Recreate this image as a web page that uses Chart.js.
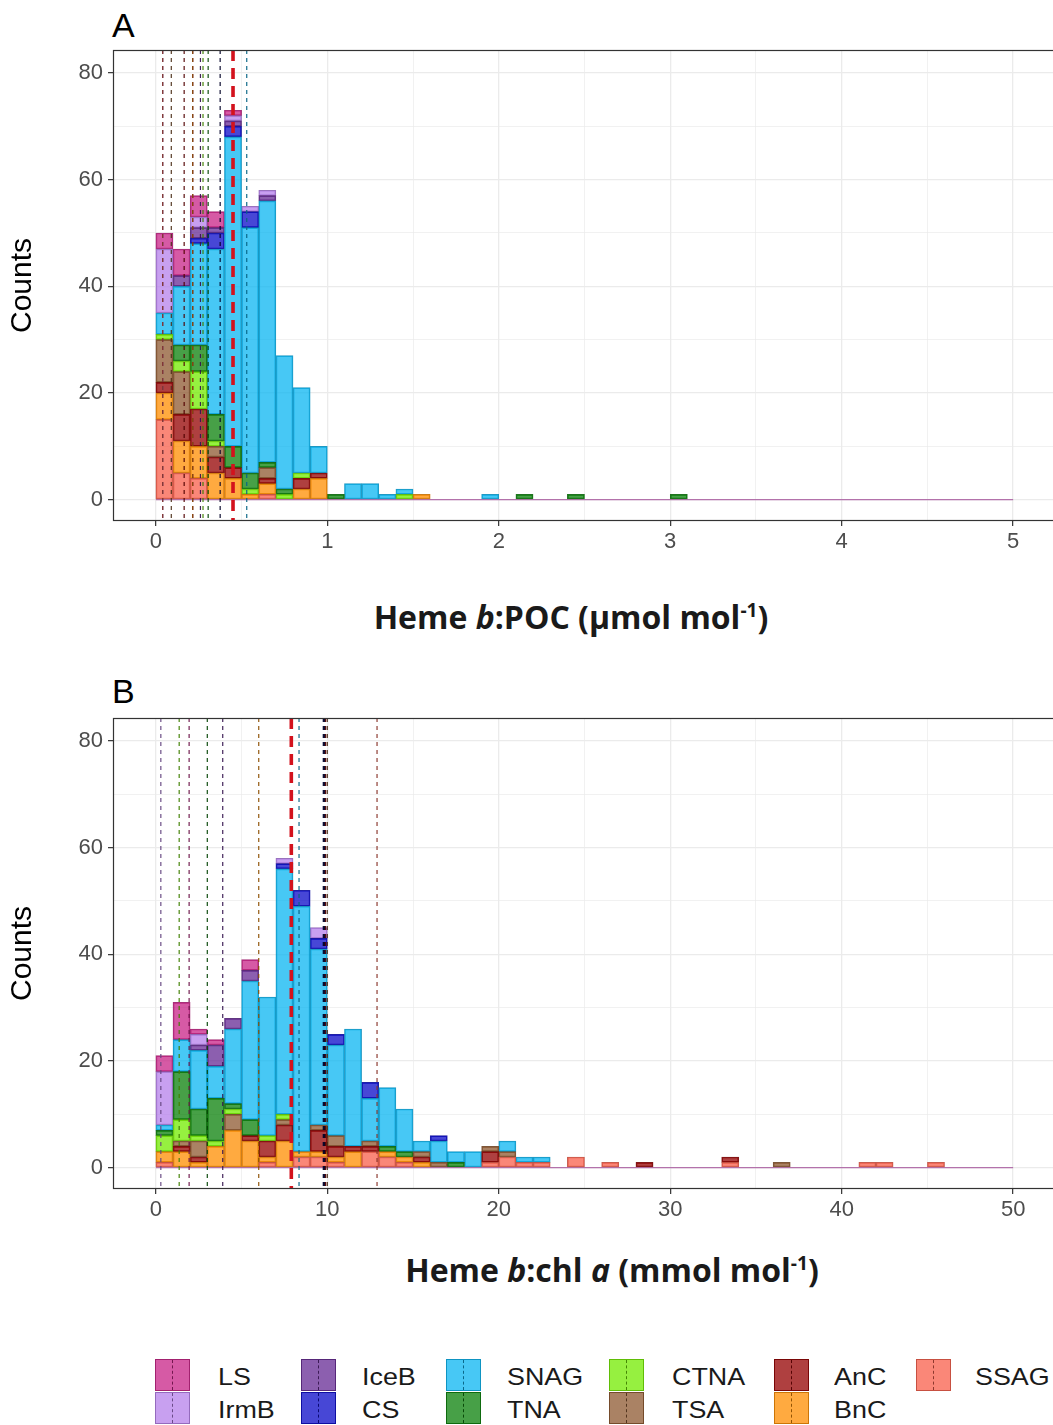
<!DOCTYPE html>
<html>
<head>
<meta charset="utf-8">
<title>Heme b histograms</title>
<script src="https://cdn.jsdelivr.net/npm/chart.js@4.4.1/dist/chart.umd.min.js"></script>
<style>
  html, body { margin:0; padding:0; background:#fff; width:1053px; height:1425px; overflow:hidden; }
  body { position:relative; font-family:"Liberation Sans", Arial, sans-serif; color:#000; }
  canvas { position:absolute; left:0; }
  #chartA { top:0; }
  #chartB { top:668px; }
  .tag { position:absolute; left:112px; font-size:34px; line-height:1; }
  .xtitle { position:absolute; font-family:"Open Sans", sans-serif; font-weight:700; font-size:32px; line-height:1; white-space:nowrap; transform:translateX(-50%); color:#1a1a1a; }
  .xtitle sup { font-size:0.6em; vertical-align:0.65em; line-height:0; }
  .key { position:absolute; width:35px; height:32px; box-sizing:border-box; border:1px solid; }
  .key .dash { position:absolute; left:16px; top:0; bottom:0; border-left:1.5px dashed; }
  .lab { position:absolute; font-size:24px; line-height:1; white-space:nowrap; color:#1a1a1a; transform:scaleX(1.12); transform-origin:left center; }
</style>
</head>
<body>
<div class="tag" style="top:8px">A</div>
<canvas id="chartA" width="1070" height="560" style="width:1070px;height:560px"></canvas>
<div class="xtitle" style="left:571px;top:601px">Heme <i>b</i>:POC (µmol mol<sup>-1</sup>)</div>

<div class="tag" style="top:674px">B</div>
<canvas id="chartB" width="1070" height="560" style="width:1070px;height:560px"></canvas>
<div class="xtitle" style="left:612px;top:1254px">Heme <i>b</i>:chl <i>a</i> (mmol mol<sup>-1</sup>)</div>

<div id="legend"></div>

<script>
// ---------------- data ----------------
const groups = ['LS','IrmB','IceB','CS','SNAG','TNA','CTNA','TSA','AnC','BnC','SSAG'];
const groupHex = ['#c82387','#b680eb','#662a94','#0a0ac8','#0ab6f2','#0a800a','#73eb00','#8e5830','#940000','#ff8e00','#f85f4b'];

// Panel A: Heme b:POC, bins of 0.1 from 0 to 5
const binStartA = 0, binWidthA = 0.1;
const countsA_LS   = [3,5,4,3,1,0,0,0,0,0, 0,0,0,0,0,0,0,0,0,0, 0,0,0,0,0,0,0,0,0,0, 0,0,0,0,0,0,0,0,0,0, 0,0,0,0,0,0,0,0,0,0];
const countsA_IrmB = [12,0,2,0,1,1,1,0,0,0, 0,0,0,0,0,0,0,0,0,0, 0,0,0,0,0,0,0,0,0,0, 0,0,0,0,0,0,0,0,0,0, 0,0,0,0,0,0,0,0,0,0];
const countsA_IceB = [0,2,2,1,1,0,1,0,0,0, 0,0,0,0,0,0,0,0,0,0, 0,0,0,0,0,0,0,0,0,0, 0,0,0,0,0,0,0,0,0,0, 0,0,0,0,0,0,0,0,0,0];
const countsA_CS   = [0,0,1,3,2,3,0,0,0,0, 0,0,0,0,0,0,0,0,0,0, 0,0,0,0,0,0,0,0,0,0, 0,0,0,0,0,0,0,0,0,0, 0,0,0,0,0,0,0,0,0,0];
const countsA_SNAG = [4,11,19,31,58,46,49,25,16,5, 0,3,3,1,1,0,0,0,0,1, 0,0,0,0,0,0,0,0,0,0, 0,0,0,0,0,0,0,0,0,0, 0,0,0,0,0,0,0,0,0,0];
const countsA_TNA  = [0,3,5,5,4,3,1,1,0,0, 1,0,0,0,0,0,0,0,0,0, 0,1,0,0,1,0,0,0,0,0, 1,0,0,0,0,0,0,0,0,0, 0,0,0,0,0,0,0,0,0,0];
const countsA_CTNA = [1,2,7,1,0,1,0,1,1,0, 0,0,0,0,1,0,0,0,0,0, 0,0,0,0,0,0,0,0,0,0, 0,0,0,0,0,0,0,0,0,0, 0,0,0,0,0,0,0,0,0,0];
const countsA_TSA  = [8,8,0,2,0,0,2,0,0,0, 0,0,0,0,0,0,0,0,0,0, 0,0,0,0,0,0,0,0,0,0, 0,0,0,0,0,0,0,0,0,0, 0,0,0,0,0,0,0,0,0,0];
const countsA_AnC  = [2,5,7,3,2,0,1,0,2,1, 0,0,0,0,0,0,0,0,0,0, 0,0,0,0,0,0,0,0,0,0, 0,0,0,0,0,0,0,0,0,0, 0,0,0,0,0,0,0,0,0,0];
const countsA_BnC  = [5,6,6,5,4,1,2,0,2,4, 0,0,0,0,0,1,0,0,0,0, 0,0,0,0,0,0,0,0,0,0, 0,0,0,0,0,0,0,0,0,0, 0,0,0,0,0,0,0,0,0,0];
const countsA_SSAG = [15,5,4,0,0,0,1,0,0,0, 0,0,0,0,0,0,0,0,0,0, 0,0,0,0,0,0,0,0,0,0, 0,0,0,0,0,0,0,0,0,0, 0,0,0,0,0,0,0,0,0,0];
// group medians (order of `groups`) and overall median
const mediansA = [0.215, 0.04, 0.26, 0.375, 0.53, 0.305, 0.275, 0.09, 0.165, 0.215, 0.04];
const overallMedianA = 0.45;
const xTicksA = [0, 1, 2, 3, 4, 5];

// Panel B: Heme b:chl a, bins of 1 from 0 to 50
const binStartB = 0, binWidthB = 1;
const countsB_LS   = [3,7,1,1,0,2,0,0,0,0, 0,0,0,0,0,0,0,0,0,0, 0,0,0,0,0,0,0,0,0,0, 0,0,0,0,0,0,0,0,0,0, 0,0,0,0,0,0,0,0,0,0];
const countsB_IrmB = [10,0,2,0,0,0,0,1,0,2, 0,0,0,0,0,0,0,0,0,0, 0,0,0,0,0,0,0,0,0,0, 0,0,0,0,0,0,0,0,0,0, 0,0,0,0,0,0,0,0,0,0];
const countsB_IceB = [0,0,1,4,2,2,0,0,0,0, 0,0,0,0,0,0,0,0,0,0, 0,0,0,0,0,0,0,0,0,0, 0,0,0,0,0,0,0,0,0,0, 0,0,0,0,0,0,0,0,0,0];
const countsB_CS   = [0,0,0,0,0,0,0,1,3,2, 2,0,3,0,0,0,1,0,0,0, 0,0,0,0,0,0,0,0,0,0, 0,0,0,0,0,0,0,0,0,0, 0,0,0,0,0,0,0,0,0,0];
const countsB_SNAG = [1,6,11,6,14,26,26,46,46,33, 17,22,8,11,8,2,4,2,3,0, 2,1,1,0,0,0,0,0,0,0, 0,0,0,0,0,0,0,0,0,0, 0,0,0,0,0,0,0,0,0,0];
const countsB_TNA  = [1,9,5,8,1,3,0,0,0,0, 0,0,0,1,1,0,0,1,0,0, 0,0,0,0,0,0,0,0,0,0, 0,0,0,0,0,0,0,0,0,0, 0,0,0,0,0,0,0,0,0,0];
const countsB_CTNA = [3,4,1,1,1,0,1,1,0,0, 0,0,0,0,0,0,0,0,0,0, 0,0,0,0,0,0,0,0,0,0, 0,0,0,0,0,0,0,0,0,0, 0,0,0,0,0,0,0,0,0,0];
const countsB_TSA  = [0,1,3,0,3,0,0,1,0,1, 2,0,1,0,0,1,1,0,0,1, 1,0,0,0,0,0,0,0,0,0, 0,0,0,0,0,0,1,0,0,0, 0,0,0,0,0,0,0,0,0,0];
const countsB_AnC  = [0,1,1,0,0,1,3,3,0,4, 2,1,1,0,0,1,0,0,0,2, 0,0,0,0,0,0,0,0,1,0, 0,0,0,1,0,0,0,0,0,0, 0,0,0,0,0,0,0,0,0,0];
const countsB_BnC  = [2,3,1,4,7,5,1,5,1,1, 1,3,0,1,1,1,0,0,0,0, 0,0,0,0,0,0,0,0,0,0, 0,0,0,0,0,0,0,0,0,0, 0,0,0,0,0,0,0,0,0,0];
const countsB_SSAG = [1,0,0,0,0,0,1,0,2,2, 1,0,3,2,1,0,0,0,0,1, 2,1,1,0,2,0,1,0,0,0, 0,0,0,1,0,0,0,0,0,0, 0,1,1,0,0,1,0,0,0,0];
const mediansB = [1.94, 0.29, 3.9, 9.8, 8.35, 3.0, 1.36, 10.0, 9.9, 6.0, 12.9];
const overallMedianB = 7.9;
const xTicksB = [0, 10, 20, 30, 40, 50];

const yTicks = [0, 20, 40, 60, 80];

// ---------------- helpers ----------------
const countsA = {LS:countsA_LS, IrmB:countsA_IrmB, IceB:countsA_IceB, CS:countsA_CS, SNAG:countsA_SNAG, TNA:countsA_TNA,
                 CTNA:countsA_CTNA, TSA:countsA_TSA, AnC:countsA_AnC, BnC:countsA_BnC, SSAG:countsA_SSAG};
const countsB = {LS:countsB_LS, IrmB:countsB_IrmB, IceB:countsB_IceB, CS:countsB_CS, SNAG:countsB_SNAG, TNA:countsB_TNA,
                 CTNA:countsB_CTNA, TSA:countsB_TSA, AnC:countsB_AnC, BnC:countsB_BnC, SSAG:countsB_SSAG};

function hexRGB(h) { return [parseInt(h.slice(1,3),16), parseInt(h.slice(3,5),16), parseInt(h.slice(5,7),16)]; }
function rgba(h, a, f) { const c = hexRGB(h).map(v => Math.round(v * (f || 1))); return `rgba(${c[0]},${c[1]},${c[2]},${a})`; }
const fillAlpha = 0.75;
const isMajor = (v, majors) => majors.some(t => Math.abs(t - v) < 1e-9);
// major ticks plus the midpoints between them (ggplot minor grid)
function withMinors(majors) {
  const out = [];
  majors.forEach((m, i) => { out.push(m); if (i < majors.length - 1) out.push((m + majors[i + 1]) / 2); });
  return out;
}

Chart.defaults.font.family = "'Liberation Sans', Arial, sans-serif";

const overlay = {
  id: 'overlay',
  beforeDatasetsDraw(chart, args, o) {
    const {ctx, scales: {x, y}} = chart;
    ctx.save();
    ctx.strokeStyle = o.baseColor; ctx.lineWidth = 1.4;
    const y0 = y.getPixelForValue(0);
    ctx.beginPath(); ctx.moveTo(x.getPixelForValue(o.xStart), y0); ctx.lineTo(x.getPixelForValue(o.xEnd), y0); ctx.stroke();
    ctx.restore();
  },
  afterDatasetsDraw(chart, args, o) {
    const {ctx, chartArea: ca, scales: {x}} = chart;
    ctx.save();
    o.medians.forEach((m, i) => {
      const px = x.getPixelForValue(m);
      const isCS = groups[i] === 'CS';
      ctx.strokeStyle = rgba(groupHex[i], 0.95, isCS ? 0.2 : 0.55);
      ctx.lineWidth = isCS ? o.csWidth : 1.2;
      ctx.setLineDash([4, 4]);
      ctx.beginPath(); ctx.moveTo(px, ca.top); ctx.lineTo(px, ca.bottom); ctx.stroke();
    });
    const pm = x.getPixelForValue(o.overall);
    ctx.strokeStyle = '#d3121d'; ctx.lineWidth = 3.6; ctx.setLineDash([11, 7]);
    ctx.beginPath(); ctx.moveTo(pm, ca.top); ctx.lineTo(pm, ca.bottom); ctx.stroke();
    ctx.setLineDash([]);
    ctx.strokeStyle = '#333333'; ctx.lineWidth = 1.2;
    ctx.strokeRect(ca.left + 0.5, ca.top + 0.5, ca.width - 1, ca.height - 1);
    ctx.restore();
  }
};

function makeChart(id, counts, binStart, binWidth, nBins, xTicks, medians, overall, csWidth) {
  const span = nBins * binWidth;
  const xGrid = withMinors(xTicks);
  const yGrid = withMinors(yTicks);
  const datasets = groups.slice().reverse().map(g => {
    const i = groups.indexOf(g);
    return {
      type: 'bar',
      label: g,
      data: counts[g].map((c, k) => ({x: binStart + (k + 0.5) * binWidth, y: c})),
      backgroundColor: rgba(groupHex[i], fillAlpha),
      borderColor: rgba(groupHex[i], 0.9, 0.78),
      borderWidth: 1,
      borderSkipped: false,
      barPercentage: 1,
      categoryPercentage: 1,
      stack: 'all'
    };
  });
  return new Chart(document.getElementById(id), {
    type: 'bar',
    data: { datasets },
    plugins: [overlay],
    options: {
      responsive: false, animation: false, devicePixelRatio: 1,
      layout: { padding: { top: 50, right: 14, left: 0, bottom: 0 } },
      plugins: {
        legend: { display: false }, tooltip: { enabled: false },
        overlay: { baseColor: 'rgba(176,108,168,0.95)', xStart: binStart, xEnd: binStart + span,
                   medians, overall, csWidth }
      },
      scales: {
        x: {
          type: 'linear', stacked: true, offset: false,
          min: binStart - span * 0.05, max: binStart + span * 1.05,
          border: { display: false },
          grid: { offset: false, color: '#ebebeb', lineWidth: c => (c.tick && isMajor(c.tick.value, xTicks)) ? 1.3 : 0.7,
                  tickLength: 5, tickWidth: 1.2,
                  tickColor: c => (c.tick && isMajor(c.tick.value, xTicks)) ? '#333333' : 'rgba(0,0,0,0)' },
          afterBuildTicks: s => { s.ticks = xGrid.map(v => ({ value: v })); },
          afterFit: s => { s.height = 39; },
          ticks: { autoSkip: false, maxRotation: 0, minRotation: 0, padding: 3, color: '#4d4d4d', font: { size: 22 },
                   callback: v => isMajor(v, xTicks) ? String(Math.round(v)) : '' }
        },
        y: {
          stacked: true, min: -4, max: 84.3,
          border: { display: false },
          grid: { color: '#ebebeb', lineWidth: c => (c.tick && isMajor(c.tick.value, yTicks)) ? 1.3 : 0.7,
                  tickLength: 5, tickWidth: 1.2,
                  tickColor: c => (c.tick && isMajor(c.tick.value, yTicks)) ? '#333333' : 'rgba(0,0,0,0)' },
          afterBuildTicks: s => { s.ticks = yGrid.map(v => ({ value: v })); },
          afterFit: s => { s.width = 113; },
          ticks: { autoSkip: false, padding: 5, color: '#4d4d4d', font: { size: 22 },
                   callback: v => isMajor(v, yTicks) ? String(Math.round(v)) : '' },
          title: { display: true, text: 'Counts', color: '#000', font: { size: 30 }, padding: { top: 5, bottom: 0 } }
        }
      }
    }
  });
}

makeChart('chartA', countsA, binStartA, binWidthA, 50, xTicksA, mediansA, overallMedianA, 1.2);
makeChart('chartB', countsB, binStartB, binWidthB, 50, xTicksB, mediansB, overallMedianB, 2.4);

// ---------------- legend ----------------
const legendCols = [[155, 218], [301, 362], [446, 507], [609, 672], [774, 834], [916, 975]];
const legendRows = [1359, 1392];
const lg = document.getElementById('legend');
groups.forEach((g, i) => {
  const col = legendCols[Math.floor(i / 2)], row = legendRows[i % 2];
  const key = document.createElement('div');
  key.className = 'key';
  key.style.left = col[0] + 'px'; key.style.top = row + 'px';
  key.style.background = rgba(groupHex[i], fillAlpha);
  key.style.borderColor = rgba(groupHex[i], 0.9, 0.78);
  const d = document.createElement('div');
  d.className = 'dash';
  d.style.borderColor = rgba(groupHex[i], 0.95, 0.55);
  key.appendChild(d);
  lg.appendChild(key);
  const lab = document.createElement('div');
  lab.className = 'lab';
  lab.textContent = g;
  lab.style.left = col[1] + 'px'; lab.style.top = (row + 6) + 'px';
  lg.appendChild(lab);
});
</script>
</body>
</html>
